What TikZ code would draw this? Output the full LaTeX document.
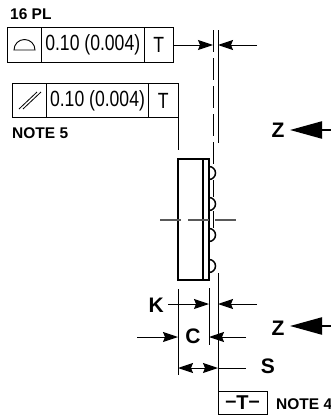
\documentclass[tikz,border=0pt]{standalone}
\usepackage{fontspec}
\setmainfont{Liberation Sans}
\usetikzlibrary{arrows.meta}
\tikzset{
    cell/.style={draw,line width=1pt,inner sep=0pt,minimum height=34.5pt,font=\fontsize{22}{22}\selectfont},
    label/.style={inner sep=0pt,font=\fontsize{21}{21}\selectfont\bfseries},
    note/.style={inner sep=0pt,font=\fontsize{15.5}{16}\selectfont\bfseries},
    dim/.style={line width=1pt,-{Stealth[length=15pt,width=10pt,inset=2pt]}},
    big/.style={line width=2.2pt,-{Triangle[length=32pt,width=17pt]}},
    ext/.style={line width=1pt},
    bodyline/.style={line width=1.5pt},
    center line/.style={line width=1.1pt,black!65},
    long dash/.style={line width=1pt,dash pattern=on 22pt off 6pt}
}
\newcommand{\narrowtext}[1]{\scalebox{.8}[1]{#1}}
\begin{document}
\begin{tikzpicture}[x=1pt,y=-1pt]
    \useasboundingbox (0,0) rectangle (331,415);

    % upper frame
    \node[note,anchor=west] at (10,14) (pl) {16 PL};
    \node[cell,minimum width=34pt] at (24.5,45) (sym1) {};
    \node[cell,minimum width=102.5pt] at (92.75,45) (tol1) {\narrowtext{0.10 (0.004)}};
    \node[cell,minimum width=29.5pt] at (158.75,45) (ref1) {\narrowtext{T}};
    \draw[line width=.9pt] (14,50) arc[start angle=180,end angle=0,radius=10.5pt] -- cycle;

    % lower frame
    \node[cell,minimum width=34pt] at (29.25,100.5) (sym2) {};
    \node[cell,minimum width=102.5pt] at (97.5,100.5) (tol2) {\narrowtext{0.10 (0.004)}};
    \node[cell,minimum width=30pt] at (163.25,100.5) (ref2) {\narrowtext{T}};
    \draw[line width=.8pt] (19,109) -- (37,92) (23,109) -- (41,92);
    \node[note,anchor=west] at (12,133) (note5) {NOTE 5};

    % witness lines
    \coordinate (top) at (213,30);
    \coordinate (ball) at (213,168);
    \coordinate (flat) at (218,30);
    \coordinate (flatend) at (218,143);
    \coordinate (floor) at (218,273);
    \coordinate (datum) at (218,391);
    \coordinate (bodytop) at (178,117);
    \coordinate (bodytopend) at (178,150);
    \draw[long dash] (top) -- (ball);
    \draw[ext] (flat) -- (flatend);
    \draw[ext] (floor) -- (datum);
    \draw[ext] (bodytop) -- (bodytopend);

    % package
    \node[draw,bodyline,inner sep=0pt,minimum width=31pt,minimum height=121pt] at (193.5,219.5) (body) {};
    \draw[bodyline] (203,159) -- (203,280);
    \foreach \y/\name in {173/a,204/b,235/c,266/d} {
        \coordinate (ball\name) at (211.5,\y);
        \draw[bodyline] (209,\y-6.5) arc[start angle=90,end angle=-90,radius=6.5pt] -- cycle;
    }
    \draw[ext] (213,180) -- (213,197) (213,211) -- (213,228);
    \draw[center line] (160,220) -- (181,220) (188,220) -- (209,220) (215,220) -- (236,220);

    % dimension lines below
    \coordinate (kext) at (209,288);
    \coordinate (kextend) at (209,345);
    \coordinate (cext) at (178,289);
    \coordinate (cextend) at (178,375);
    \draw[ext] (kext) -- (kextend);
    \draw[ext] (cext) -- (cextend);

    % top dimension
    \coordinate (tolarrow) at (213,45);
    \coordinate (tolright) at (257,45);
    \coordinate (flatarrow) at (218,45);
    \draw[dim] (ref1) -- (tolarrow);
    \draw[dim] (tolright) -- (flatarrow);

    % K
    \node[label,anchor=east] at (164,305) (k) {K};
    \coordinate (kl) at (168,304);
    \coordinate (kr) at (257,304);
    \draw[dim] (kl) -- (kextend |- kl);
    \draw[dim] (kr) -- (floor |- kr);

    % C
    \node[label] at (193,336) (c) {C};
    \coordinate (cl) at (137,337);
    \coordinate (cr) at (246,337);
    \draw[dim] (cl) -- (cext |- cl);
    \draw[dim] (cr) -- (kext |- cr);

    % S
    \node[label] at (268,366) (s) {S};
    \coordinate (sl) at (178,368);
    \coordinate (sr) at (218,368);
    \coordinate (send) at (246,368);
    \draw[dim,{Stealth[length=15pt,width=10pt,inset=2pt]}-{Stealth[length=15pt,width=10pt,inset=2pt]}] (sl) -- (sr);
    \draw[ext] (sr) -- (send);

    % view arrows
    \node[label] at (278,130) (z1) {Z};
    \coordinate (z1tail) at (331,130);
    \coordinate (z1tip) at (290,130);
    \draw[big] (z1tail) -- (z1tip);
    \node[label] at (278,328) (z2) {Z};
    \coordinate (z2tail) at (331,326);
    \coordinate (z2tip) at (290,326);
    \draw[big] (z2tail) -- (z2tip);

    % datum
    \node[draw,line width=1pt,inner sep=0pt,minimum width=49pt,minimum height=23pt,font=\fontsize{20}{20}\selectfont\bfseries] at (242.5,402.5) (datumbox) {\raisebox{2pt}{--}T\raisebox{2pt}{--}};
    \node[note,anchor=west] at (276,404) (note4) {NOTE 4};
\end{tikzpicture}
\end{document}
